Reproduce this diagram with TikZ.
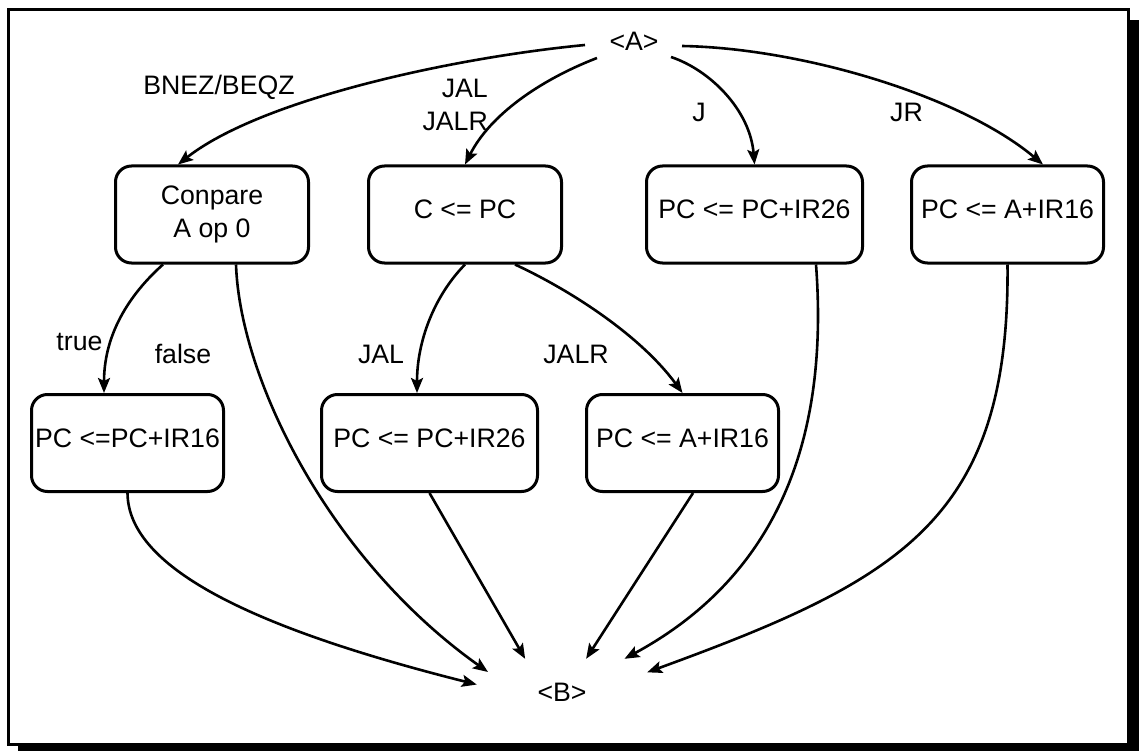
\documentclass[tikz,border=0pt]{standalone}
\usepackage{fontspec}
\setmainfont{Liberation Sans}
\usetikzlibrary{calc,arrows.meta}

\begin{document}
\begin{tikzpicture}[x=1pt,y=-1pt,
  font=\fontsize{26.7}{33}\selectfont,
  stepbox/.style={draw, line width=3pt, rounded corners=16pt, minimum height=97pt, inner sep=0pt},
  onebox/.style={stepbox, text height=19.2pt, text depth=11pt},
  lbl/.style={inner sep=0pt},
  flow/.style={line width=2.6pt, -{Stealth[length=15pt,width=12pt,inset=3pt]}},
]
% page, frame and its drop shadow
\useasboundingbox (0,0) rectangle (1139,751);
\fill (18,20) rectangle (1139,751);
\draw[line width=3pt, fill=white] (8,10) rectangle (1128.5,744.5);

% states
\node[stepbox, minimum width=193pt, align=center] (cmp) at (212,214.5) {Conpare\\A op 0};
\node[onebox, minimum width=193pt] (cpc) at (465,214.5) {C <= PC};
\node[onebox, minimum width=216pt] (j) at (754.5,214.5) {PC <= PC+IR26};
\node[onebox, minimum width=192pt] (jr) at (1007.5,214.5) {PC <= A+IR16};
\node[onebox, minimum width=192pt] (t16) at (127.5,443) {PC <=PC+IR16};
\node[onebox, minimum width=216pt] (jal) at (429.5,443) {PC <= PC+IR26};
\node[onebox, minimum width=192pt] (jalr) at (682.5,443) {PC <= A+IR16};

% entry and exit points
\node[lbl] (A) at (634,41) {<A>};
\node[lbl, minimum width=170pt, minimum height=66pt] (B) at (562,692) {<B>};

% branches out of <A>
\draw[flow] ($(A)+(-49,4)$) .. controls (450,58) and (260,100) .. ($(cmp.north)+(-34,0)$);
\draw[flow] ($(A)+(-37,17)$) .. controls (540,80) and (490,115) .. (cpc.north);
\draw[flow] ($(A)+(37,16)$) .. controls (710,70) and (750,110) .. (j.north);
\draw[flow] ($(A)+(48,5)$) .. controls (800,48) and (960,95) .. ($(jr.north)+(35.5,0)$);

% second level
\draw[flow] ($(cmp.south)+(-49,0)$) .. controls (140,285) and (104,325) .. ($(t16.north)+(-23.5,0)$);
\draw[flow] ($(cmp.south)+(24,0)$) .. controls (240,380) and (330,560) .. ($(B.center)+(-74,-20)$);
\draw[flow] (cpc.south) .. controls (435,295) and (417,340) .. ($(jal.north)+(-12.5,0)$);
\draw[flow] ($(cpc.south)+(50,0)$) .. controls (570,290) and (640,335) .. (jalr.north);

% into <B>
\draw[flow] (t16.south) .. controls (128,570) and (260,630) .. (B.175);
\draw[flow] (jal.south) -- (B.138);
\draw[flow] ($(jalr.south)+(10.5,0)$) -- (B.54);
\draw[flow] ($(j.south)+(61.5,0)$) .. controls (830,450) and (770,580) .. (B.28.4);
\draw[flow] (jr.south) .. controls (1010,520) and (900,580) .. (B.13.2);

% edge labels
\node[lbl] (l1) at (219,87) {BNEZ/BEQZ};
\node[lbl, align=right, anchor=east] (l2) at (488,105) {JAL\\JALR};
\node[lbl] (l3) at (699,112) {J};
\node[lbl] (l4) at (906.5,112) {JR};
\node[lbl] (l5) at (79.5,341.5) {true};
\node[lbl] (l6) at (183,354) {false};
\node[lbl] (l7) at (381,354) {JAL};
\node[lbl] (l8) at (576,354) {JALR};
\end{tikzpicture}
\end{document}
